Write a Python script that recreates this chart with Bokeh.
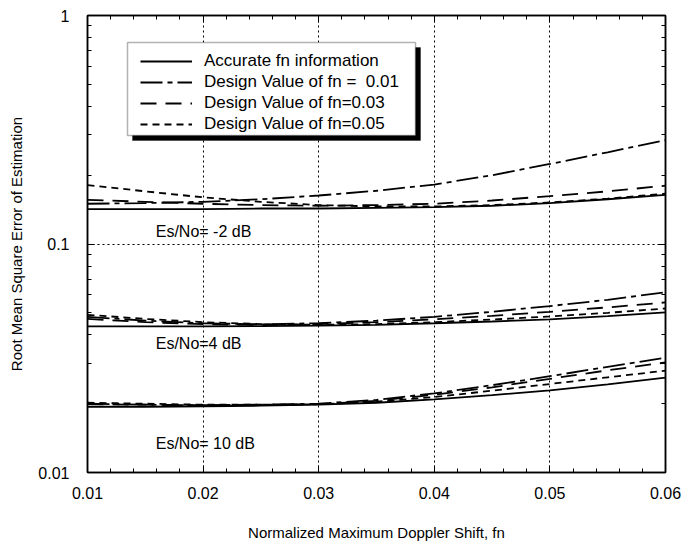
from bokeh.plotting import figure
from bokeh.models import (Range1d, FixedTicker, CustomJSTickFormatter, LinearAxis, LogAxis,
                          Legend, LegendItem, BoxAnnotation, Label)
from bokeh.embed import file_html
from bokeh.resources import INLINE

# Normalized maximum Doppler shift
fn = [0.01, 0.015, 0.02, 0.025, 0.03, 0.035, 0.04, 0.045, 0.05, 0.055, 0.06]

# Es/No = -2 dB
acc_m2 = [0.142, 0.142, 0.142, 0.143, 0.143, 0.144, 0.145, 0.147, 0.151, 0.157, 0.164]
d01_m2 = [0.150, 0.151, 0.153, 0.157, 0.163, 0.171, 0.182, 0.200, 0.224, 0.252, 0.285]
d03_m2 = [0.156, 0.153, 0.150, 0.148, 0.147, 0.148, 0.150, 0.155, 0.162, 0.170, 0.180]
d05_m2 = [0.181, 0.170, 0.160, 0.153, 0.148, 0.146, 0.146, 0.148, 0.152, 0.158, 0.166]

# Es/No = 4 dB
acc_4 = [0.0436, 0.0436, 0.0436, 0.0437, 0.0439, 0.0443, 0.0450, 0.0458, 0.0468, 0.0483, 0.0502]
d01_4 = [0.0480, 0.0462, 0.0450, 0.0445, 0.0450, 0.0462, 0.0480, 0.0505, 0.0535, 0.0570, 0.0615]
d03_4 = [0.0470, 0.0455, 0.0446, 0.0442, 0.0446, 0.0455, 0.0468, 0.0485, 0.0505, 0.0528, 0.0555]
d05_4 = [0.0490, 0.0470, 0.0455, 0.0446, 0.0443, 0.0446, 0.0455, 0.0467, 0.0482, 0.0500, 0.0522]

# Es/No = 10 dB
acc_10 = [0.0194, 0.0194, 0.0195, 0.0196, 0.0198, 0.0202, 0.0209, 0.0218, 0.0229, 0.0243, 0.0260]
d01_10 = [0.0200, 0.0198, 0.0197, 0.0198, 0.0200, 0.0208, 0.0222, 0.0241, 0.0264, 0.0290, 0.0318]
d03_10 = [0.0199, 0.0198, 0.0197, 0.0197, 0.0199, 0.0206, 0.0219, 0.0236, 0.0257, 0.0280, 0.0303]
d05_10 = [0.0202, 0.0200, 0.0198, 0.0198, 0.0199, 0.0204, 0.0214, 0.0228, 0.0244, 0.0261, 0.0279]

x_ticks = [0.01, 0.02, 0.03, 0.04, 0.05, 0.06]
x_minor = [0.012, 0.014, 0.016, 0.018, 0.022, 0.024, 0.026, 0.028, 0.032, 0.034, 0.036, 0.038,
           0.042, 0.044, 0.046, 0.048, 0.052, 0.054, 0.056, 0.058]
y_ticks = [0.01, 0.1, 1]
y_minor = [0.02, 0.03, 0.04, 0.05, 0.06, 0.07, 0.08, 0.09,
           0.2, 0.3, 0.4, 0.5, 0.6, 0.7, 0.8, 0.9]

legend_labels = ["Accurate fn information", "Design Value of fn =  0.01",
                 "Design Value of fn=0.03", "Design Value of fn=0.05"]
curve_labels = ["Es/No= -2 dB", "Es/No=4 dB", "Es/No= 10 dB"]
curve_label_x = [0.0159, 0.0159, 0.0159]
curve_label_y = [0.1134, 0.0367, 0.0134]

FONT = "Liberation Sans"
dashes = ["solid", "22 5 5 5", "16 9", "7 5"]

X0, X1, Y0, Y1 = 0.01, 0.06, 0.01, 1.0
FRAME_W, FRAME_H = 578, 457

p = figure(width=682, height=550, y_axis_type="log",
           x_range=Range1d(X0, X1), y_range=Range1d(Y0, Y1),
           output_backend="svg", toolbar_location=None,
           min_border_left=87, min_border_right=17, min_border_top=15, min_border_bottom=78)
p.background_fill_color = "white"
p.outline_line_color = "black"
p.outline_line_width = 1.5

xt = FixedTicker(ticks=x_ticks, minor_ticks=x_minor)
yt = FixedTicker(ticks=y_ticks, minor_ticks=y_minor)

def style_axis(ax, ticker):
    ax.ticker = ticker
    ax.axis_line_color = "black"
    ax.axis_line_width = 1.5
    ax.major_tick_line_color = "black"
    ax.minor_tick_line_color = "black"
    ax.major_tick_in = 7
    ax.major_tick_out = 0
    ax.minor_tick_in = 4
    ax.minor_tick_out = 0
    ax.major_label_text_font = FONT
    ax.major_label_text_color = "black"
    ax.major_label_text_font_size = "16px"

style_axis(p.xaxis[0], xt)
style_axis(p.yaxis[0], yt)
p.xaxis[0].formatter = CustomJSTickFormatter(code="return tick.toFixed(2);")
p.yaxis[0].formatter = CustomJSTickFormatter(code="return String(+tick.toPrecision(3));")
p.xaxis[0].major_label_standoff = 14
p.yaxis[0].major_label_standoff = 18

p.xaxis[0].axis_label = "Normalized Maximum Doppler Shift, fn"
p.xaxis[0].axis_label_standoff = 22
p.yaxis[0].axis_label = "Root Mean Square Error of Estimation"
p.yaxis[0].axis_label_standoff = 10
for ax in (p.xaxis[0], p.yaxis[0]):
    ax.axis_label_text_font = FONT
    ax.axis_label_text_font_size = "15px"
    ax.axis_label_text_font_style = "normal"
    ax.axis_label_text_color = "black"

# tick-only axes on the top and right edges of the frame
blank = CustomJSTickFormatter(code="return '';")
top_axis = LinearAxis(formatter=blank, major_label_standoff=0)
style_axis(top_axis, xt)
p.add_layout(top_axis, "above")
right_axis = LogAxis(formatter=blank, major_label_standoff=0)
style_axis(right_axis, yt)
p.add_layout(right_axis, "right")

for g in (p.xgrid[0], p.ygrid[0]):
    g.grid_line_color = "black"
    g.grid_line_dash = "2 3"
    g.grid_line_width = 1

groups = [
    [acc_m2, d01_m2, d03_m2, d05_m2],
    [acc_4, d01_4, d03_4, d05_4],
    [acc_10, d01_10, d03_10, d05_10],
]
legend_renderers = []
for gi, group in enumerate(groups):
    for si, ys in enumerate(group):
        r = p.line(fn, ys, line_color="black", line_width=1.8, line_dash=dashes[si])
        if gi == 0:
            legend_renderers.append(r)

for txt, lx, ly in zip(curve_labels, curve_label_x, curve_label_y):
    p.add_layout(Label(x=lx, y=ly, text=txt, text_font=FONT, text_font_size="16px",
                       text_baseline="middle", text_color="black"))

# legend frame with a drop shadow; placed in pixels from the frame's bottom-left
def to_x(px):
    return X0 + px / FRAME_W * (X1 - X0)

def to_y(py):
    return Y0 * (Y1 / Y0) ** (py / FRAME_H)

box_left, box_bottom, box_w, box_h, shadow = 40, 337, 288, 93, 5
p.add_layout(BoxAnnotation(left=to_x(box_left + shadow), right=to_x(box_left + box_w + shadow),
                           bottom=to_y(box_bottom - shadow), top=to_y(box_bottom + box_h - shadow),
                           fill_color="black", fill_alpha=1, line_color="black",
                           level="annotation"))
p.add_layout(BoxAnnotation(left=to_x(box_left), right=to_x(box_left + box_w),
                           bottom=to_y(box_bottom), top=to_y(box_bottom + box_h),
                           fill_color="white", fill_alpha=1, line_color="black",
                           line_width=1.5, level="annotation"))

legend = Legend(items=[LegendItem(label=lbl, renderers=[r])
                       for lbl, r in zip(legend_labels, legend_renderers)],
                location=(box_left + 13, box_bottom + 1))
legend.background_fill_alpha = 0
legend.border_line_alpha = 0
legend.label_text_font = FONT
legend.label_text_font_size = "17px"
legend.label_text_color = "black"
legend.glyph_width = 52
legend.glyph_height = 20
legend.label_height = 20
legend.spacing = 1
legend.padding = 0
legend.margin = 0
legend.label_standoff = 12
p.add_layout(legend, "center")

open("out.html", "w").write(file_html(p, INLINE))
